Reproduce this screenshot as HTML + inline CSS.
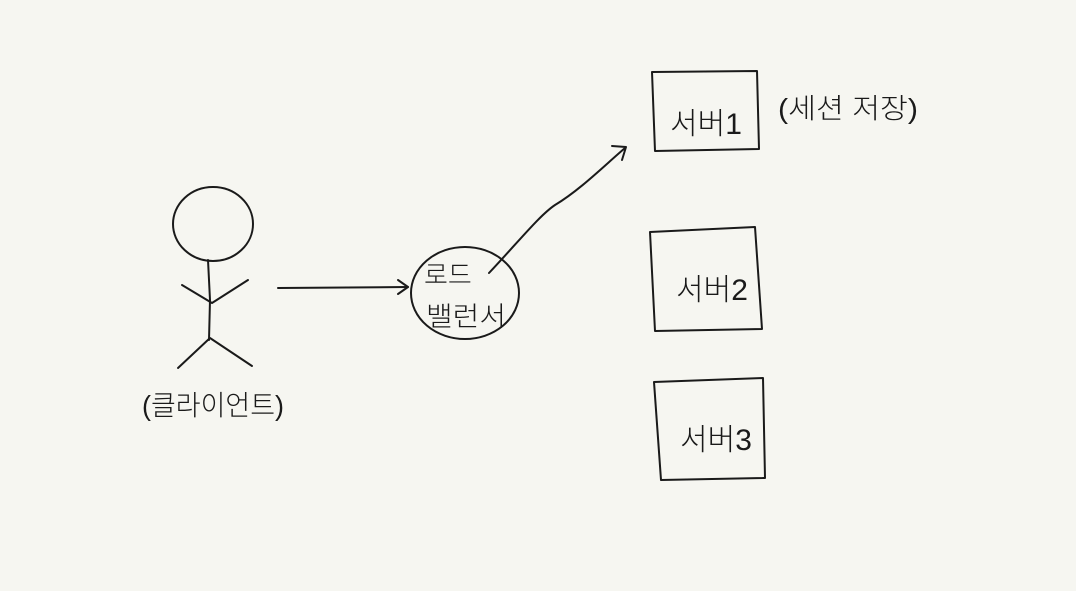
<!DOCTYPE html>
<html><head><meta charset="utf-8"><style>
html,body{margin:0;padding:0;background:#f6f6f1;}
svg{display:block}
text{font-family:"Liberation Sans","Noto Sans CJK KR","NanumGothic",sans-serif;fill:#1a1a1a;font-weight:300}
</style></head><body>
<svg width="1076" height="591" viewBox="0 0 1076 591" xmlns="http://www.w3.org/2000/svg">
<rect width="1076" height="591" fill="#f6f6f1"/>
<g fill="none" stroke="#1a1a1a" stroke-width="2" stroke-linecap="round" stroke-linejoin="round">
<ellipse cx="213" cy="224" rx="40" ry="37"/>
<path d="M208 260 L210 300 L209 340"/>
<path d="M182 285 L212 303 L248 280"/>
<path d="M178 368 L210 338 L252 366"/>
<path d="M278 288 L408 287"/>
<path d="M398 280 L408 287 L398 294"/>
<ellipse cx="465" cy="293" rx="54" ry="46"/>
<path d="M489 273 C520 240 540 215 555 205 C580 190 605 165 625 148"/>
<path d="M612 146 L626 147 L622 160"/>
<path d="M652 72 L757 71 L759 149 L655 151 Z"/>
<path d="M650 232 L755 227 L762 329 L655 331 Z"/>
<path d="M654 382 L763 378 L765 478 L661 480 Z"/>
</g>
<text x="142" y="415" font-size="28" textLength="142" lengthAdjust="spacingAndGlyphs">(클라이언트)</text>
<text x="424" y="284" font-size="26">로드</text>
<text x="426" y="326" font-size="27" textLength="80" lengthAdjust="spacingAndGlyphs">밸런서</text>
<text x="670" y="134" font-size="30">서버1</text>
<text x="676" y="300" font-size="30">서버2</text>
<text x="680" y="450" font-size="30">서버3</text>
<text x="778" y="118" font-size="28" textLength="140" lengthAdjust="spacingAndGlyphs">(세션 저장)</text>
</svg>
</body></html>
